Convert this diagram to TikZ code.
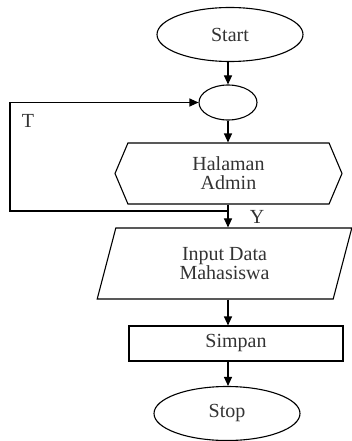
\documentclass[tikz,border=0pt]{standalone}
\usepackage{fontspec}
\setmainfont{Liberation Serif}
\usetikzlibrary{shapes.geometric,shapes.symbols,arrows.meta}
\begin{document}
\begin{tikzpicture}[x=1pt,y=1pt,
    line width=1.1pt,
    every node/.style={font=\fontsize{20}{19}\selectfont, text=black!80, align=center},
    terminal/.style={draw, ellipse, minimum width=146pt, minimum height=54pt},
    conn/.style={draw, ellipse, minimum width=58pt, minimum height=35pt, inner sep=0pt},
    prep/.style={draw, signal, signal to=west and east, signal pointer angle=134, minimum width=227pt, minimum height=61pt},
    io/.style={draw, trapezium, trapezium left angle=78, trapezium right angle=102, trapezium stretches=true, minimum width=255pt, minimum height=71pt},
    proc/.style={draw, rectangle, minimum width=214pt, minimum height=35pt},
    arr/.style={-{Triangle[length=9pt,width=8pt]}}]
            \useasboundingbox (0,0) rectangle (352,-441);
            \node [terminal] (start) at (230,-34.5) {Start};
            \node [conn] (jn) at (228,-102.5) {};
            \node [prep] (admin) at (228.5,-173.5) {Halaman\\Admin};
            \node [io] (input) at (224.5,-263.5) {Input Data\\Mahasiswa};
            \node [proc] (simpan) at (236,-343.5) {Simpan};
            \node [terminal] (stop) at (227,-413.5) {Stop};
            \coordinate (split) at (228,-211);
            \coordinate (lb) at (10,-211);
            \coordinate (lt) at (10,-102.5);
            \draw [arr] (start.south -| jn) -- (jn.north);
            \draw [arr] (jn.south) -- (admin.north -| jn);
            \draw [arr] (admin.south -| jn) -- (input.north -| jn);
            \draw [arr] (split) -- (lb) -- (lt) -- (jn.west);
            \draw [arr] (input.south -| jn) -- (simpan.north -| jn);
            \draw [arr] (simpan.south -| jn) -- (stop.north -| jn);
            \node (t) at (28,-121) {T};
            \node (y) at (257,-217) {Y};
        \end{tikzpicture}
\end{document}
